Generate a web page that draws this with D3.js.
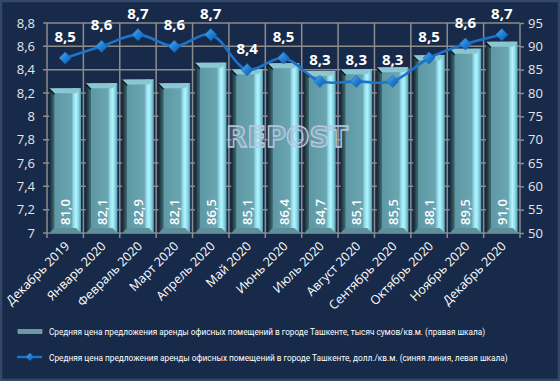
<!DOCTYPE html>
<html>
<head>
<meta charset="utf-8">
<script src="https://cdn.jsdelivr.net/npm/d3@7"></script>
<style>
html,body{margin:0;padding:0;background:#172a4a;}
svg{display:block;}
text{font-family:"Open Sans","Noto Sans",sans-serif;}
</style>
</head>
<body>
<svg id="chart" width="560" height="381"></svg>
<script>
const categories = ["Декабрь 2019","Январь 2020","Февраль 2020","Март 2020","Апрель 2020","Май 2020","Июнь 2020","Июль 2020","Август 2020","Сентябрь 2020","Октябрь 2020","Ноябрь 2020","Декабрь 2020"];
const sumValues = [81.0, 82.1, 82.9, 82.1, 86.5, 85.1, 86.4, 84.7, 85.1, 85.5, 88.1, 89.5, 91.0];
const usdValues = [8.5, 8.6, 8.7, 8.6, 8.7, 8.4, 8.5, 8.3, 8.3, 8.3, 8.5, 8.62, 8.7];
const leftTicks = [7, 7.2, 7.4, 7.6, 7.8, 8, 8.2, 8.4, 8.6, 8.8];
const rightTicks = [50, 55, 60, 65, 70, 75, 80, 85, 90, 95];
const legendLabels = [
  "Средняя цена предложения аренды офисных помещений в городе Ташкенте, тысяч сумов/кв.м. (правая шкала)",
  "Средняя цена предложения аренды офисных помещений в городе Ташкенте, долл./кв.м. (синяя линия, левая шкала)"
];

const svg = d3.select("#chart");
const W = 560, H = 381;
const plot = {left: 47, right: 520, top: 23, bottom: 233};

// background + frame
svg.append("rect").attr("x",0).attr("y",0).attr("width",W).attr("height",H).attr("fill","#172a4a");
svg.append("rect").attr("x",1).attr("y",1).attr("width",W-2).attr("height",H-2)
  .attr("fill","none").attr("stroke","#34496a").attr("stroke-width",2.5);

const defs = svg.append("defs");
const g1 = defs.append("linearGradient").attr("id","barBody").attr("x1","0").attr("x2","1").attr("y1","0").attr("y2","0");
[[0,"#17262c"],[0.15,"#3e6a75"],[0.17,"#5f98a5"],[0.70,"#6aa5b2"],[0.76,"#8fd8e8"],[0.84,"#b2f5ff"],[0.92,"#88d6e6"],[1,"#5a98a6"]]
  .forEach(s=>g1.append("stop").attr("offset",s[0]).attr("stop-color",s[1]));
const g2 = defs.append("linearGradient").attr("id","diam").attr("x1","0").attr("x2","1").attr("y1","0").attr("y2","1");
[[0,"#5fb0f0"],[0.5,"#1f7fd6"],[1,"#0f5aa8"]].forEach(s=>g2.append("stop").attr("offset",s[0]).attr("stop-color",s[1]));

const x = d3.scaleBand().domain(categories).range([plot.left, plot.right]).padding(0);
const yL = d3.scaleLinear().domain([7, 8.8]).range([plot.bottom, plot.top]);
const yR = d3.scaleLinear().domain([50, 95]).range([plot.bottom, plot.top]);

const commaFmt = d => (Math.round(d*10)/10).toString().replace(".", ",");
const fmt1 = d => d3.format(".1f")(d).replace(".", ",");

// gridlines
const grid = svg.append("g");
grid.selectAll("line.h").data(leftTicks).join("line")
  .attr("x1", plot.left-4).attr("x2", plot.right)
  .attr("y1", d=>yL(d)).attr("y2", d=>yL(d))
  .attr("stroke","#8c8c8c").attr("stroke-width",1.5);
const bounds = categories.map(c=>x(c)).concat([plot.right]);
grid.selectAll("line.v").data(bounds).join("line")
  .attr("x1", d=>d).attr("x2", d=>d)
  .attr("y1", plot.top).attr("y2", plot.bottom+5)
  .attr("stroke","#8c8c8c").attr("stroke-width",1.5);

// left axis
const axL = svg.append("g").attr("transform",`translate(${plot.left},0)`)
  .call(d3.axisLeft(yL).tickValues(leftTicks).tickFormat(commaFmt).tickSize(0).tickPadding(12));
axL.select(".domain").remove();
axL.selectAll("text").attr("fill","#e6e6e6").style("font-size","13px").style("font-family","'Open Sans',sans-serif");

// right axis
const axR = svg.append("g").attr("transform",`translate(${plot.right},0)`)
  .call(d3.axisRight(yR).tickValues(rightTicks).tickSize(4).tickPadding(4));
axR.select(".domain").remove();
axR.selectAll("line").attr("stroke","#8c8c8c").attr("stroke-width",1.5);
axR.selectAll("text").attr("fill","#e6e6e6").style("font-size","13px");

// bars
const bw = x.bandwidth()*0.87;
const bars = svg.append("g").selectAll("g").data(categories.map((c,i)=>({c, v: sumValues[i]}))).join("g");
bars.append("rect")
  .attr("x", d=>x(d.c)+(x.bandwidth()-bw)/2).attr("width", bw)
  .attr("y", d=>yR(d.v)).attr("height", d=>yR(50)-yR(d.v))
  .attr("fill","url(#barBody)");
// top bevel
bars.append("path").attr("d", d=>{
  const x0 = x(d.c)+(x.bandwidth()-bw)/2, x1 = x0+bw, y0 = yR(d.v), b = 5;
  return `M${x0},${y0}L${x1},${y0}L${x1-b},${y0+b}L${x0+b},${y0+b}Z`;
}).attr("fill","#8cc6d3");
bars.append("path").attr("d", d=>{
  const x0 = x(d.c)+(x.bandwidth()-bw)/2, x1 = x0+bw, y0 = yR(d.v), b = 5;
  return `M${x0},${y0}L${x0+b},${y0+b}L${x0+b},${y0+b+2}L${x0},${y0+2}Z`;
}).attr("fill","#101c22");
// bottom bevel
bars.append("path").attr("d", d=>{
  const x0 = x(d.c)+(x.bandwidth()-bw)/2, x1 = x0+bw, yb = yR(50), b = 5;
  return `M${x0},${yb}L${x1},${yb}L${x1-b},${yb-b}L${x0+b},${yb-b}Z`;
}).attr("fill","#5e8f9a");
bars.append("text")
  .attr("transform", d=>`translate(${x(d.c)+x.bandwidth()/2+5},${plot.bottom-8}) rotate(-90)`)
  .attr("text-anchor","start").attr("fill","#ffffff")
  .style("font-size","13px").style("font-weight","600")
  .text(d=>fmt1(d.v));

// watermark
svg.append("text").attr("x",287).attr("y",147).attr("text-anchor","middle")
  .attr("textLength",122).attr("lengthAdjust","spacingAndGlyphs")
  .style("font-size","28px").style("font-weight","700").style("font-family","'DejaVu Sans',sans-serif")
  .attr("fill","rgba(175,195,220,0.3)").attr("stroke","#b8c9de").attr("stroke-width",1.4)
  .text("REPOST");

// line
const pts = categories.map((c,i)=>({c, v: usdValues[i]}));
const line = d3.line().x(d=>x(d.c)+x.bandwidth()/2).y(d=>yL(d.v)).curve(d3.curveCatmullRom.alpha(0.5));
svg.append("path").datum(pts).attr("d", line).attr("fill","none")
  .attr("stroke","#1b74c9").attr("stroke-width",2.6);
const diamond = d3.symbol().type(d3.symbolDiamond2).size(95);
svg.append("g").selectAll("path").data(pts).join("path")
  .attr("transform", d=>`translate(${x(d.c)+x.bandwidth()/2},${yL(d.v)})`)
  .attr("d", diamond).attr("fill","url(#diam)").attr("stroke","#1765b5").attr("stroke-width",0.6);
svg.append("g").selectAll("text").data(pts).join("text")
  .attr("x", d=>x(d.c)+x.bandwidth()/2).attr("y", d=>yL(d.v)-16)
  .attr("text-anchor","middle").attr("fill","#ffffff")
  .style("font-size","15px").style("font-weight","700")
  .text(d=>fmt1(d.v));

// x labels
svg.append("g").selectAll("text").data(categories).join("text")
  .attr("transform", c=>`translate(${x(c)+x.bandwidth()/2+5},${plot.bottom+14}) rotate(-45)`)
  .attr("text-anchor","end").attr("fill","#ffffff")
  .style("font-size","12.5px")
  .text(c=>c);

// legend
const lg = svg.append("g");
lg.append("rect").attr("x",18).attr("y",329.5).attr("width",24).attr("height",4)
  .attr("fill","#6e9ba3").attr("stroke","#8fb4ba").attr("stroke-width",0.6);
lg.append("line").attr("x1",17).attr("x2",42).attr("y1",357).attr("y2",357)
  .attr("stroke","#1b74c9").attr("stroke-width",2.4);
lg.append("path").attr("transform","translate(30,357)").attr("d", d3.symbol().type(d3.symbolDiamond2).size(40))
  .attr("fill","url(#diam)");
const legendTargets = [436, 459];
const legendY = [335, 360.5];
legendLabels.forEach((t,i)=>{
  const el = lg.append("text").attr("x",49).attr("y",legendY[i]).attr("fill","#ffffff")
    .style("font-family","Roboto,'Open Sans',sans-serif").style("font-size","10px").text(t);
  const w = el.node().getComputedTextLength();
  el.style("font-size", (10*legendTargets[i]/w).toFixed(2)+"px");
});
</script>
</body>
</html>
